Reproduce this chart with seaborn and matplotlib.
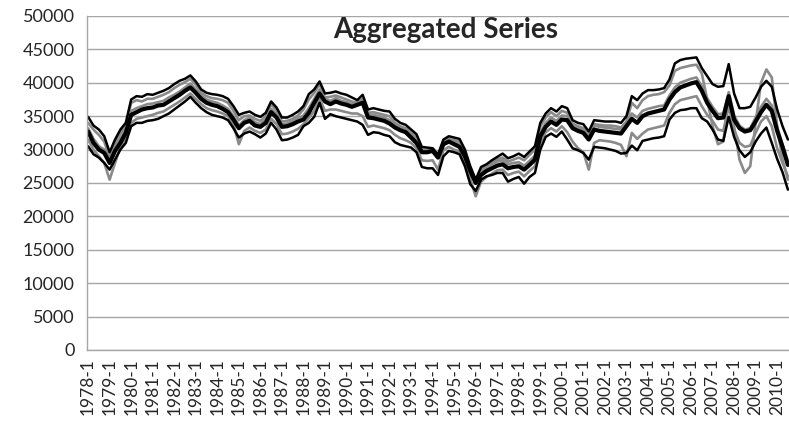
import matplotlib
matplotlib.use("Agg")
import matplotlib.pyplot as plt
import seaborn as sns
import numpy as np
import pandas as pd

# quarterly categories 1978-1 .. 2010-3
quarters = [f"{y}-{q}" for y in range(1978, 2011) for q in range(1, 5)][:131]

# values in thousands
center = [32.7, 31.0, 30.0, 29.5, 28.0, 29.8, 31.0, 32.5, 35.2, 35.6,
          36.0, 36.2, 36.3, 36.6, 36.7, 37.2, 37.7, 38.2, 38.8, 39.3,
          38.5, 37.6, 37.0, 36.7, 36.5, 36.1, 35.6, 34.5, 33.2, 34.0,
          34.3, 33.6, 33.4, 34.0, 35.6, 34.8, 33.4, 33.5, 33.8, 34.2,
          34.5, 35.5, 37.0, 38.4, 37.2, 36.8, 37.2, 36.9, 36.7, 36.4,
          36.7, 37.0, 34.8, 34.7, 34.5, 34.3, 33.9, 33.3, 32.9, 32.6,
          31.8, 31.0, 29.6, 29.6, 29.8, 28.8, 30.8, 31.2, 30.8, 30.4,
          29.0, 26.8, 25.0, 26.2, 26.8, 27.2, 27.6, 27.8, 27.2, 27.4,
          27.5, 27.0, 27.7, 28.5, 32.0, 33.4, 34.2, 33.7, 34.5, 34.4,
          33.2, 32.8, 32.5, 31.5, 33.0, 32.8, 32.7, 32.6, 32.5, 32.4,
          33.5, 34.6, 34.0, 35.0, 35.4, 35.6, 35.8, 36.0, 37.5, 38.6,
          39.3, 39.6, 39.9, 40.1, 38.8, 37.0, 35.8, 34.7, 34.8, 38.0,
          34.5, 33.2, 32.7, 32.9, 34.2, 35.6, 36.7, 35.8, 32.8, 30.4,
          27.7]

upper = [34.9, 33.6, 33.0, 32.0, 29.6, 31.5, 33.0, 34.0, 37.5, 38.0,
         37.9, 38.3, 38.2, 38.5, 38.8, 39.2, 39.8, 40.3, 40.6, 41.1,
         40.2, 39.0, 38.5, 38.3, 38.2, 38.0, 37.6, 36.5, 35.2, 35.5,
         35.7, 35.2, 34.9, 35.5, 37.2, 36.3, 34.8, 34.8, 35.2, 35.7,
         36.5, 38.3, 39.0, 40.2, 38.4, 38.5, 38.7, 38.4, 38.2, 37.8,
         37.4, 38.2, 36.0, 36.2, 36.0, 35.8, 35.7, 34.6, 34.0, 33.7,
         33.0, 32.3, 30.4, 30.3, 30.2, 29.2, 31.5, 32.0, 31.8, 31.6,
         30.0, 27.5, 25.5, 27.4, 27.8, 28.4, 28.9, 29.4, 28.7, 29.0,
         29.4, 28.9, 29.7, 30.5, 34.0, 35.4, 36.2, 35.7, 36.5, 36.2,
         34.4, 34.0, 33.8, 32.7, 34.4, 34.3, 34.2, 34.2, 34.2, 34.0,
         35.0, 38.0, 37.4, 38.4, 38.9, 38.9, 39.0, 39.2, 40.5, 42.9,
         43.4, 43.6, 43.7, 43.8, 42.2, 41.0, 39.8, 39.4, 39.5, 42.8,
         38.4, 36.2, 36.2, 36.4, 37.8, 39.4, 40.3, 39.4, 36.0, 33.5,
         31.5]

lower = [30.5, 29.3, 28.8, 28.0, 27.0, 28.5, 30.0, 31.0, 33.5, 34.0,
         34.0, 34.3, 34.4, 34.6, 35.0, 35.4, 36.0, 36.6, 37.2, 37.9,
         37.0, 36.2, 35.6, 35.2, 35.0, 34.8, 34.4, 33.2, 31.8, 32.4,
         32.7, 32.3, 31.8, 32.4, 34.0, 33.0, 31.4, 31.5, 31.8, 32.2,
         33.5, 34.0, 34.9, 37.0, 34.6, 35.3, 35.0, 34.8, 34.6, 34.4,
         34.2, 33.7, 32.2, 32.6, 32.5, 32.2, 32.0, 31.1, 30.7, 30.5,
         30.3, 29.6, 27.4, 27.2, 27.2, 26.2, 29.0, 29.8, 29.6, 29.3,
         27.5, 24.8, 23.8, 25.5, 26.0, 26.2, 26.5, 26.5, 25.2, 25.6,
         25.9, 24.9, 25.9, 26.5, 30.0, 31.9, 32.4, 31.9, 32.7, 31.5,
         30.2, 29.9, 29.5, 28.5, 30.4, 30.3, 30.2, 30.0, 29.8, 29.4,
         29.5, 30.6, 29.9, 31.3, 31.5, 31.7, 31.8, 32.0, 34.5, 35.5,
         35.9, 36.0, 36.2, 36.2, 34.7, 34.2, 33.0, 31.5, 31.3, 34.9,
         31.9, 29.9, 28.9, 29.6, 31.2, 32.4, 33.3, 31.0, 28.6, 26.6,
         24.0]

grey_hi = [34.0, 33.0, 32.2, 31.2, 28.8, 30.8, 32.4, 33.6, 37.0, 37.4,
           37.2, 37.6, 37.6, 37.9, 38.2, 38.6, 39.2, 39.7, 40.1, 40.6,
           39.7, 38.5, 38.0, 37.7, 37.6, 37.4, 37.0, 35.8, 34.4, 35.0,
           35.1, 34.6, 34.3, 35.0, 36.8, 35.8, 34.2, 34.3, 34.6, 35.1,
           36.0, 37.5, 38.5, 39.8, 37.8, 37.9, 38.1, 37.8, 37.5, 37.2,
           37.0, 37.6, 35.5, 35.6, 35.4, 35.2, 35.0, 34.0, 33.5, 33.2,
           32.5, 31.8, 29.9, 29.9, 29.8, 28.8, 31.2, 31.6, 31.4, 31.2,
           29.6, 27.0, 25.2, 27.0, 27.5, 28.0, 28.5, 28.8, 28.2, 28.5,
           28.8, 28.4, 29.2, 30.0, 33.5, 34.8, 35.6, 35.0, 35.8, 35.5,
           33.9, 33.5, 33.2, 32.0, 33.8, 33.7, 33.6, 33.6, 33.5, 33.3,
           34.2, 37.0, 36.2, 37.4, 38.0, 38.2, 38.3, 38.6, 39.6, 41.8,
           42.2, 42.4, 42.6, 42.7, 41.4, 37.5, 33.5, 30.8, 31.2, 37.5,
           33.5, 28.5, 26.5, 27.5, 34.0, 40.0, 42.0, 40.8, 33.5, 28.5,
           25.5]

grey_mid = [33.2, 31.6, 30.5, 30.0, 28.4, 30.2, 31.6, 33.2, 35.8, 36.2,
            36.5, 36.8, 36.9, 37.1, 37.3, 37.8, 38.2, 38.7, 39.3, 39.9,
            39.0, 38.1, 37.5, 37.2, 37.0, 36.6, 36.1, 35.0, 33.6, 34.4,
            34.8, 34.1, 33.8, 34.5, 36.1, 35.2, 33.8, 33.9, 34.3, 34.7,
            35.1, 36.2, 37.6, 39.0, 37.6, 37.3, 37.7, 37.3, 37.1, 36.8,
            37.0, 37.5, 35.2, 35.2, 35.0, 34.8, 34.4, 33.8, 33.4, 33.1,
            32.3, 31.5, 30.0, 30.0, 30.2, 29.3, 31.3, 31.6, 31.2, 30.8,
            29.4, 27.2, 25.4, 26.7, 27.3, 27.8, 28.2, 28.4, 27.8, 28.0,
            28.1, 27.6, 28.3, 29.1, 32.6, 34.0, 34.8, 34.3, 35.1, 35.0,
            33.7, 33.3, 33.0, 32.0, 33.6, 33.4, 33.3, 33.2, 33.1, 33.0,
            34.0, 35.4, 34.8, 35.8, 36.1, 36.3, 36.5, 36.6, 38.1, 39.3,
            40.0, 40.3, 40.6, 40.8, 39.5, 37.7, 36.4, 35.3, 35.4, 38.6,
            35.1, 33.6, 33.0, 33.2, 34.8, 36.4, 37.6, 36.6, 33.4, 30.8,
            28.2]

grey_lo = [31.5, 30.0, 29.0, 28.0, 25.5, 28.0, 30.4, 31.8, 34.0, 34.6,
           34.8, 35.0, 35.2, 35.5, 35.7, 36.2, 36.7, 37.2, 37.8, 38.4,
           37.6, 36.8, 36.2, 35.9, 35.7, 35.4, 35.0, 33.8, 30.8, 32.8,
           33.3, 32.8, 32.5, 33.0, 34.6, 33.8, 32.3, 32.4, 32.7, 33.1,
           33.8, 34.7, 35.8, 37.6, 35.8, 36.0, 36.0, 35.8, 35.6, 35.4,
           35.4, 35.0, 33.4, 33.6, 33.4, 33.2, 32.9, 32.2, 31.7, 31.4,
           31.0, 30.2, 28.4, 28.3, 28.4, 27.0, 29.9, 30.4, 30.0, 29.7,
           28.2, 25.6, 23.0, 25.2, 25.9, 26.4, 26.9, 27.0, 26.2, 26.5,
           26.7, 26.0, 26.8, 27.5, 31.0, 32.6, 33.2, 32.7, 33.5, 32.6,
           31.2, 30.2, 29.6, 27.0, 31.0, 31.4, 31.3, 31.2, 31.0, 30.7,
           29.0, 32.5, 31.6, 32.4, 33.0, 33.2, 33.4, 33.6, 35.5, 36.8,
           37.4, 37.6, 37.8, 38.0, 36.5, 35.2, 34.3, 33.0, 32.8, 36.5,
           33.0, 31.0, 30.4, 30.6, 32.5, 34.2, 35.0, 33.5, 30.2, 28.0,
           26.0]

series = {
    "grey_hi": (grey_hi, "#8a8a8a", 1.9),
    "grey_mid": (grey_mid, "#8a8a8a", 1.9),
    "grey_lo": (grey_lo, "#8a8a8a", 1.9),
    "upper": (upper, "black", 1.8),
    "lower": (lower, "black", 1.8),
    "center": (center, "black", 3.0),
}

sns.set_theme(style="white")
plt.rcParams["font.family"] = ["Lato", "DejaVu Sans"]

fig = plt.figure(figsize=(7.89, 4.33), dpi=100)
ax = fig.add_axes([0.1103, 0.1917, 0.8897, 0.7714])

idx = np.arange(len(quarters))
for name, (vals, col, lw) in series.items():
    sns.lineplot(x=idx, y=np.array(vals) * 1000, color=col, linewidth=lw, ax=ax)

ax.set_xlim(-0.2, 130.2)
ax.set_ylim(0, 50000)
ax.set_yticks(range(0, 50001, 5000))
ax.yaxis.grid(True, color="#a6a6a6", linewidth=1)
ax.set_axisbelow(True)

ax.set_xticks(idx)
ax.set_xticklabels([q if i % 4 == 0 else "" for i, q in enumerate(quarters)],
                   rotation=90, fontsize=12.5)
ax.tick_params(axis="x", length=4, width=0.8, color="#a6a6a6", pad=2)
ax.tick_params(axis="y", length=5, width=0.8, color="#a6a6a6", labelsize=13, pad=4)

for s in ["top", "right"]:
    ax.spines[s].set_visible(False)
for s in ["left", "bottom"]:
    ax.spines[s].set_color("#a6a6a6")
    ax.spines[s].set_linewidth(1)

fig.text(0.565, 0.931, "Aggregated Series", ha="center", va="center",
         fontsize=20, fontweight="bold")

fig.savefig("out.png", dpi=100)
